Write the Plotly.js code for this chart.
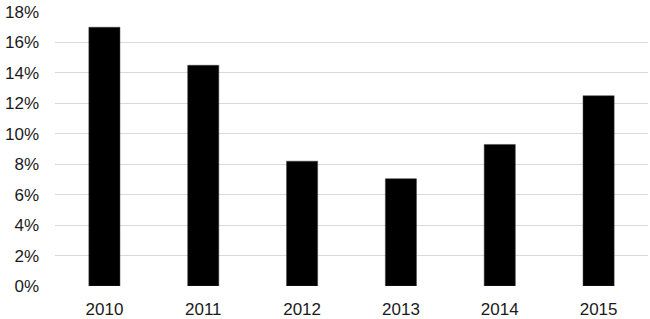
<!DOCTYPE html>
<html>
<head>
<meta charset="utf-8">
<script src="https://cdn.plot.ly/plotly-3.0.1.min.js"></script>
<style>html,body{margin:0;padding:0;background:#fff;}#chart{width:650px;height:319px;}</style>
</head>
<body>
<div id="chart"></div>
<script>
const years = ["2010", "2011", "2012", "2013", "2014", "2015"];
const values = [17.0, 14.5, 8.2, 7.05, 9.3, 12.5];
const yTicks = [0, 2, 4, 6, 8, 10, 12, 14, 16, 18];

const trace = {
  type: "bar",
  x: years,
  y: values,
  marker: {color: "#000000", line: {color: "#404040", width: 0.5}},
  hoverinfo: "none"
};
const layout = {
  width: 650, height: 319,
  margin: {l: 55, r: 2, t: 12, b: 33},
  paper_bgcolor: "#fff", plot_bgcolor: "#fff",
  bargap: 0.685,
  showlegend: false,
  font: {family: "Liberation Sans, Arial, sans-serif", size: 17, color: "#1a1a1a"},
  xaxis: {type: "category", showgrid: false, zeroline: false, showline: false, ticks: "", ticklabelstandoff: 11, tickfont: {size: 17}},
  yaxis: {range: [0, 18], tickvals: yTicks, ticktext: yTicks.map(v => v + "%"), showgrid: true, gridcolor: "#d9d9d9", gridwidth: 1, zeroline: false, showline: false, ticks: "", ticklabelstandoff: 15, tickfont: {size: 17}}
};
Plotly.newPlot("chart", [trace], layout, {staticPlot: true, displayModeBar: false});
</script>
</body>
</html>
